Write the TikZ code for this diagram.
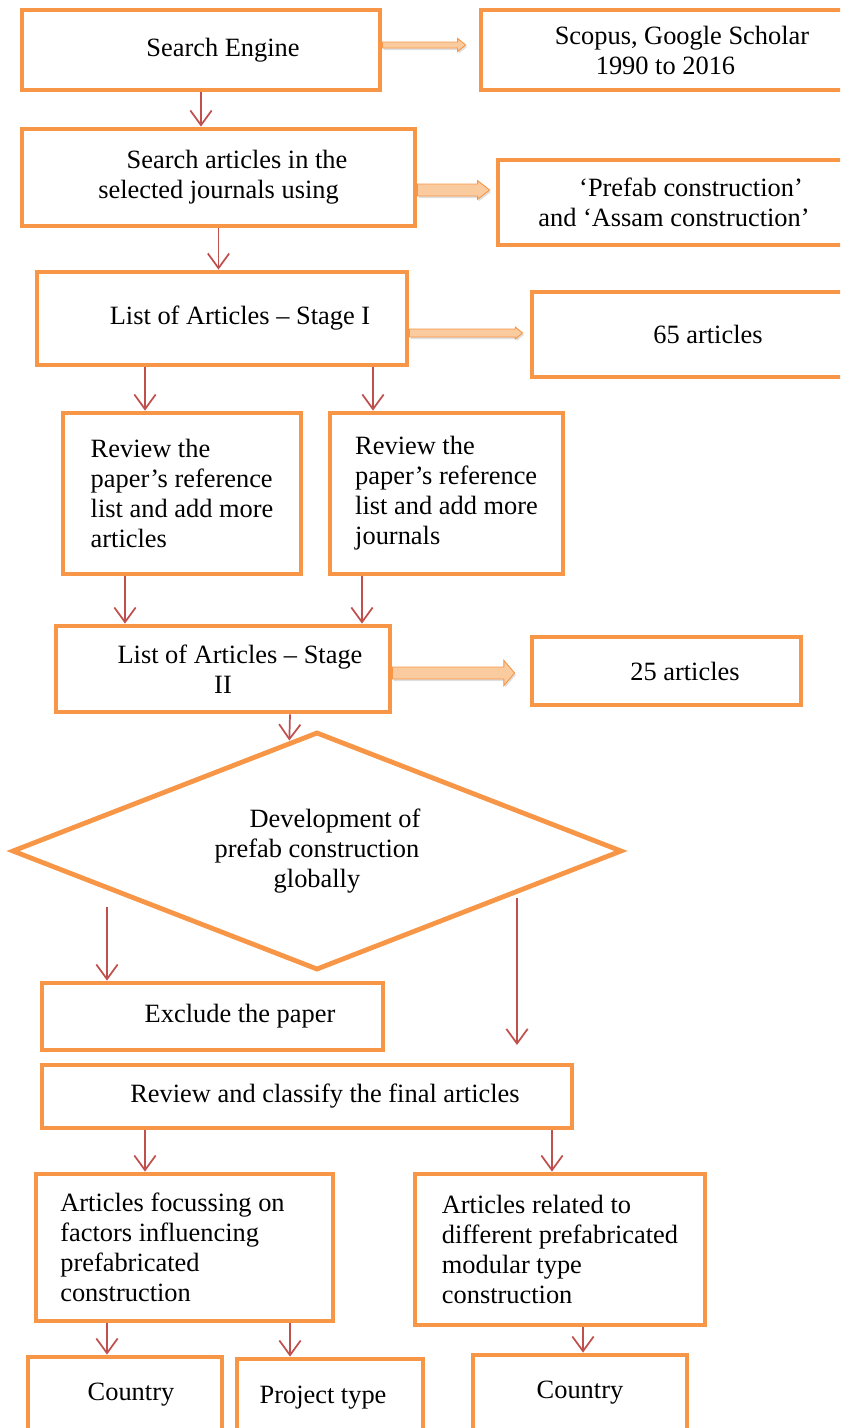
\documentclass[tikz,border=0pt]{standalone}
\usepackage{fontspec}
\setmainfont{Liberation Serif}
\usetikzlibrary{positioning, arrows.meta, shapes.geometric, calc, shadows}
\definecolor{boxorange}{HTML}{F79646}
\definecolor{flowred}{HTML}{C0504D}
\definecolor{arrowfill}{HTML}{FBCBA0}
\newcommand{\ind}[1]{\hspace*{#1}}
\tikzset{
    box/.style={
           rectangle,
           draw=boxorange, line width=3.6pt,
           fill=white,
           inner sep=2pt,
           align=center,
           font=\fontsize{19.8}{22.5}\selectfont,
           },
    leftbox/.style={box, align=left},
    flow/.style={draw=flowred, line width=1.3pt, -{Straight Barb[length=11pt,width=16pt]}},
    % block arrow: half shaft, half head, head length, gap to target
    fat/.style n args={4}{
           draw=boxorange, fill=arrowfill, line width=0.7pt,
           drop shadow={opacity=0.25, shadow xshift=1pt, shadow yshift=-1.5pt},
           to path={let \p1=(\tikztostart), \p2=(\tikztotarget) in
             (\x1,\y1+#1) -- (\x2-#4-#3,\y1+#1) -- (\x2-#4-#3,\y1+#2) -- (\x2-#4,\y1)
             -- (\x2-#4-#3,\y1-#2) -- (\x2-#4-#3,\y1-#1) -- (\x1,\y1-#1) -- cycle}
           },
}

\begin{document}
\begin{tikzpicture}[x=0.75pt, y=-0.75pt]
  \path[use as bounding box, clip] (0,0) rectangle (840,1428);

  % top part
  \node[box, minimum width=268.5pt, minimum height=60pt]     (engine)   at (201,50)      {\ind{33pt}Search Engine};
  \node[box, minimum width=276.75pt, minimum height=60pt]    (scopus)   at (665.5,50)    {\ind{24.75pt}Scopus, Google Scholar\\1990 to 2016};
  \node[box, minimum width=294.75pt, minimum height=72.75pt] (search)   at (218.5,177.5) {\ind{27.75pt}Search articles in the\\selected journals using};
  \node[box, minimum width=264pt, minimum height=63.75pt]    (keywords) at (674,202.5)   {\ind{25.5pt}‘Prefab construction’\\and ‘Assam construction’};
  \node[box, minimum width=277.5pt, minimum height=69.75pt]  (list1)    at (222,318.5)   {\ind{27pt}List of Articles -- Stage I};
  \node[box, minimum width=238.5pt, minimum height=63.75pt]  (found1)   at (691,334.5)   {\ind{25.5pt}65 articles};

  % reference lists
  \node[leftbox, minimum width=178.5pt, minimum height=120.75pt] (review1) at (182,493.5)
       {Review the\\paper’s reference\\list and add more\\articles};
  \node[leftbox, minimum width=174.75pt, minimum height=120.75pt] (review2) at (446.5,493.5)
       {Review the\\paper’s reference\\list and add more\\journals};

  \node[box, minimum width=250.5pt, minimum height=64.5pt]   (list2)    at (223,669)     {\ind{25.5pt}List of Articles -- Stage\\II};
  \node[box, minimum width=201.75pt, minimum height=51pt]    (found2)   at (666.5,671)   {\ind{27.75pt}25 articles};

  \node[box, diamond, aspect=2.56, inner sep=0pt, minimum width=457.5pt, minimum height=178.5pt] (develop) at (317,851)
       {\ind{27pt}Development of\\prefab construction\\globally};

  \node[box, minimum width=255.75pt, minimum height=50.25pt] (exclude)  at (212.5,1016.5) {\ind{41.25pt}Exclude the paper};
  \node[box, minimum width=397.5pt, minimum height=47.25pt]  (classify) at (307,1096.5)   {\ind{27pt}Review and classify the final articles};

  \node[leftbox, minimum width=222.75pt, minimum height=110.25pt] (focus) at (184.5,1247.5)
       {Articles focussing on\ind{18pt}\\factors influencing\\prefabricated\\construction};
  \node[leftbox, minimum width=217.5pt, minimum height=113.25pt] (related) at (560,1249.5)
       {Articles related to\\different prefabricated\\modular type\\construction};

  \node[box, minimum width=145.5pt, minimum height=57pt]     (country1) at (125,1395)     {\ind{9pt}Country};
  \node[box, minimum width=139.5pt, minimum height=58.5pt]   (ptype)    at (330,1398)     {Project type\ind{10.5pt}};
  \node[box, minimum width=160.5pt, minimum height=57pt]     (country2) at (580,1393)     {Country};

  % block arrows to the right
  \path[fat={2.25pt}{4.9pt}{6pt}{9.75pt}] (engine.east |- 0,45)  to (scopus.west |- 0,45);
  \path[fat={4.5pt}{7pt}{9pt}{4.5pt}]     (search.east |- 0,190) to (keywords.west |- 0,190);
  \path[fat={3pt}{4.5pt}{5.5pt}{5.25pt}]  (list1.east |- 0,333)  to (found1.west |- 0,333);
  \path[fat={4.5pt}{9.4pt}{8pt}{11.25pt}] (list2.east |- 0,673)  to (found2.west |- 0,673);

  % flow arrows
  \coordinate (dl) at (107,907);
  \coordinate (dr) at (517,898);
  \coordinate (drend) at (517,1045);

  \draw[flow] (engine.south) -- (engine.south |- search.north);
  \draw[flow] (search.south) -- (search.south |- list1.north);
  \draw[flow] (list1.south -| 145,0) -- (review1.north -| 145,0);
  \draw[flow] (list1.south -| 373,0) -- (review2.north -| 373,0);
  \draw[flow] (review1.south -| 125,0) -- (list2.north -| 125,0);
  \draw[flow] (review2.south -| 362,0) -- (list2.north -| 362,0);
  \draw[flow] (list2.south -| 290,0) -- ($(develop.north)!0.09!(develop.west)$);
  \draw[flow] (dl) -- (exclude.north -| dl);
  \draw[flow] (dr) -- (drend);
  \draw[flow] (classify.south -| 145,0) -- (focus.north -| 145,0);
  \draw[flow] (classify.south -| 552,0) -- (related.north -| 552,0);
  \draw[flow] (focus.south -| 107,0) -- (country1.north -| 107,0);
  \draw[flow] (focus.south -| 290,0) -- (ptype.north -| 290,0);
  \draw[flow] (related.south -| 583,0) -- (country2.north -| 583,0);

\end{tikzpicture}
\end{document}
